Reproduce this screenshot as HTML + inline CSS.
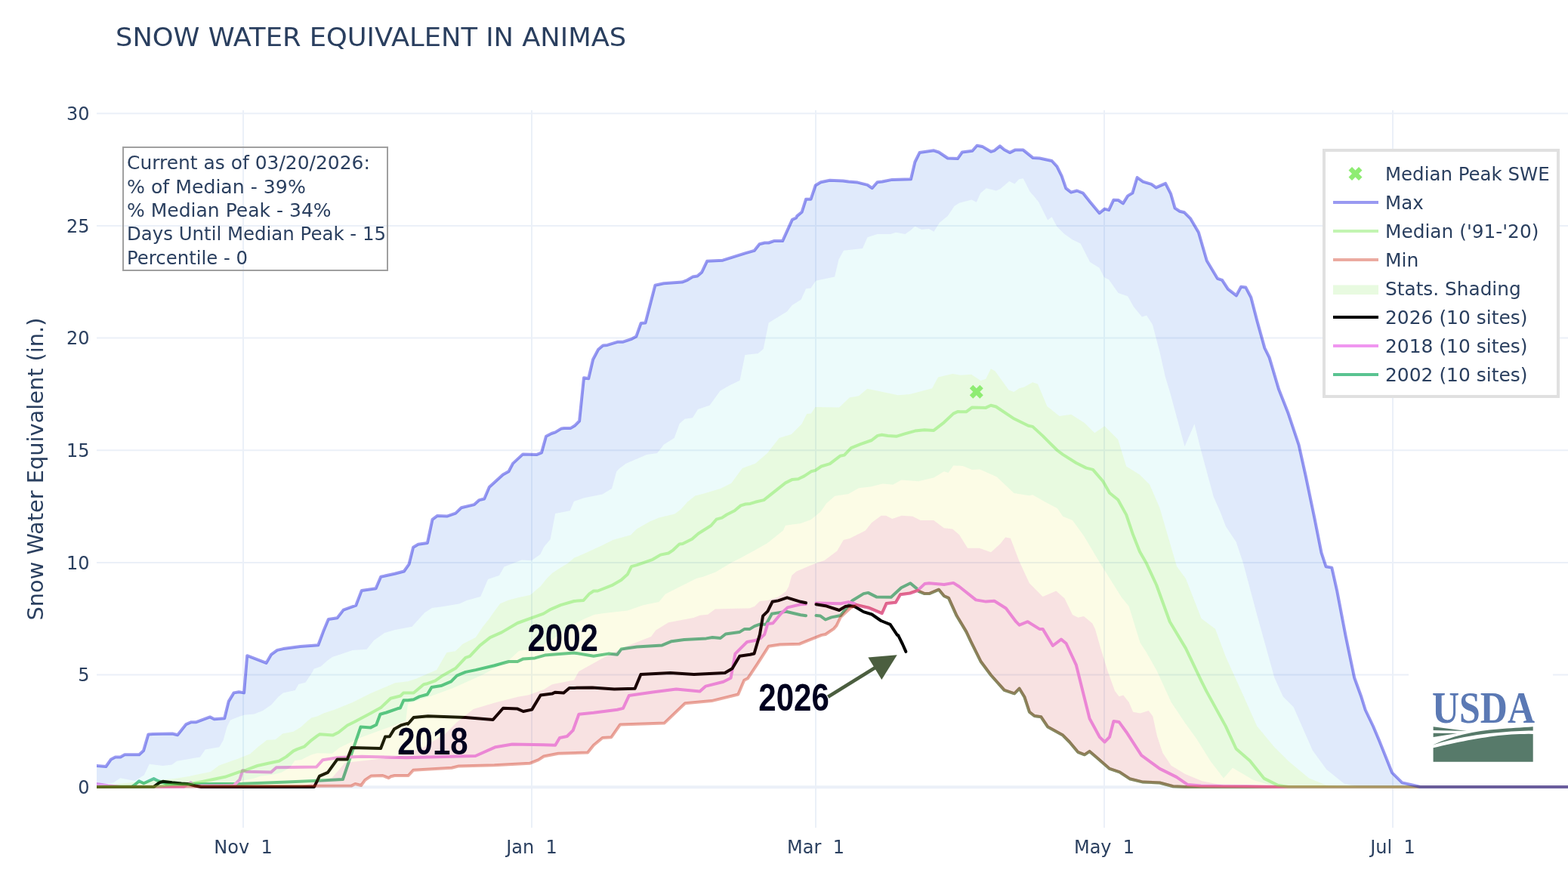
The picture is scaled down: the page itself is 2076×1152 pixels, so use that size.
<!DOCTYPE html>
<html><head><meta charset="utf-8"><title>Snow Water Equivalent in Animas</title>
<style>
html,body{margin:0;padding:0;background:#fff;overflow:hidden;}
svg{display:block;}
.t{font-family:"DejaVu Sans","Liberation Sans",sans-serif;fill:#2a3f5f;}
.lbl{font-family:"Liberation Sans",Arial,sans-serif;font-weight:bold;fill:#00001e;}
</style></head><body>
<svg width="2076" height="1152" viewBox="0 0 2076 1152">
<rect x="0" y="0" width="2076" height="1152" fill="#fff"/>
<defs><clipPath id="pc"><rect x="128" y="146" width="1948" height="950"/></clipPath></defs>
<g stroke="#ebf0f8" stroke-width="2" fill="none">
<path d="M322,146 V1096"/>
<path d="M704,146 V1096"/>
<path d="M1080,146 V1096"/>
<path d="M1462,146 V1096"/>
<path d="M1844,146 V1096"/>
<path d="M128,893.6 H2076"/>
<path d="M128,744.9 H2076"/>
<path d="M128,596.2 H2076"/>
<path d="M128,447.6 H2076"/>
<path d="M128,298.9 H2076"/>
<path d="M128,150.2 H2076"/>
</g>
<path d="M128,1042.3 H2076" stroke="#ebf0f8" stroke-width="4"/>
<g clip-path="url(#pc)" fill="none" stroke-linejoin="round" stroke-linecap="round">
<path d="M128.0,1042.0 L175.0,1041.5 L177.8,1039.7 L184.1,1034.2 L190.3,1037.3 L203.6,1031.1 L209.8,1034.2 L220.0,1037.5 L258.7,1038.3 L320.4,1037.8 L380.0,1035.5 L420.0,1033.8 L453.9,1032.0 L477.5,962.6 L490.8,963.4 L498.2,959.7 L503.4,945.7 L511.5,943.5 L526.2,938.3 L529.9,937.5 L534.4,927.2 L540.0,927.2 L547.6,926.2 L555.3,922.4 L565.8,919.5 L571.5,910.0 L583.9,908.1 L597.3,902.3 L604.9,894.7 L616.4,889.9 L629.8,887.1 L654.6,881.3 L673.7,876.0 L685.2,876.0 L692.8,872.4 L708.1,871.4 L721.4,867.6 L740.5,866.0 L760.0,864.5 L785.9,868.8 L805.5,865.6 L817.2,866.8 L822.5,859.6 L843.3,856.5 L876.7,854.4 L889.2,849.2 L905.8,847.1 L935.0,845.4 L943.3,844.0 L953.8,845.0 L960.8,839.5 L978.9,837.1 L985.8,832.9 L992.8,832.9 L999.0,829.1 L1006.0,826.7 L1014.3,826.7 L1021.9,812.8 L1030.3,811.4 L1040.7,809.7 L1060.0,814.2 L1067.0,815.3" stroke="#5ac391" stroke-width="4"/>
<path d="M1080.5,815.1 L1086.2,815.6 L1092.9,820.5 L1100.8,817.4 L1113.0,815.0 L1128.1,795.5 L1143.3,786.1 L1149.4,784.9 L1160.4,790.4 L1179.8,790.7 L1193.2,778.2 L1205.3,772.2 L1213.8,779.4 L1216.3,783.1 L1224.2,786.1 L1230.2,786.1 L1243.0,780.7 L1250.0,789.2 L1256.0,791.9 L1266.6,815.3 L1279.4,836.6 L1285.5,849.7 L1298.8,876.3 L1312.0,894.0 L1329.7,913.9 L1343.0,918.3 L1349.6,911.7 L1356.3,922.7 L1362.9,942.7 L1369.6,948.0 L1378.4,949.3 L1387.3,962.6 L1407.2,973.6 L1416.0,982.5 L1427.1,995.8 L1435.9,999.3 L1442.6,994.9 L1451.4,1002.4 L1469.1,1017.9 L1482.4,1022.3 L1495.7,1031.2 L1513.4,1035.6 L1535.5,1036.5 L1553.2,1041.3 L1570.0,1042.0 L2090.0,1042.0" stroke="#5ac391" stroke-width="4"/>
<path d="M128.0,1037.9 L143.1,1040.2 L160.0,1042.0 L243.3,1041.7 L252.6,1036.3 L258.0,1040.5 L309.6,1040.2 L317.3,1032.5 L321.2,1020.2 L326.6,1021.7 L358.9,1022.5 L365.9,1016.3 L419.0,1015.5 L427.4,1006.2 L446.6,1003.2 L479.0,1001.7 L538.0,1003.2 L567.6,1002.5 L629.5,1001.0 L656.1,989.2 L678.2,985.5 L720.0,986.2 L735.2,986.7 L741.0,977.0 L750.8,975.0 L758.6,967.2 L766.4,945.7 L785.9,943.8 L817.2,939.8 L825.0,937.9 L832.8,921.1 L864.1,916.4 L895.3,912.5 L926.6,915.6 L934.4,908.6 L957.8,902.7 L967.6,897.7 L973.4,865.6 L989.1,850.0 L1000.0,848.0 L1007.0,845.1 L1012.2,840.0 L1016.4,826.0 L1023.3,825.3 L1033.8,812.8 L1042.8,804.4 L1060.0,800.3 L1067.0,799.9" stroke="#f096f0" stroke-width="4"/>
<path d="M1080.5,798.6 L1113.0,799.2 L1123.3,797.1 L1131.2,799.2 L1134.0,801.0 L1150.0,804.7 L1167.7,812.2 L1173.7,798.9 L1185.9,797.7 L1192.0,787.3 L1204.7,785.5 L1215.0,781.9 L1224.2,773.1 L1230.2,772.2 L1250.0,774.0 L1262.3,771.9 L1270.0,776.7 L1292.1,794.4 L1305.4,796.6 L1316.5,795.8 L1331.9,805.5 L1345.2,823.2 L1349.6,827.6 L1360.7,823.2 L1376.2,832.9 L1380.6,832.9 L1393.9,855.0 L1405.0,846.6 L1411.6,852.0 L1424.9,880.7 L1442.6,951.5 L1455.8,975.8 L1462.5,982.5 L1469.1,975.8 L1474.4,955.0 L1481.5,955.9 L1491.2,969.2 L1511.2,1000.2 L1535.5,1017.9 L1557.6,1028.9 L1572.2,1038.9 L1590.0,1040.5 L1650.0,1041.0 L1700.0,1042.0 L2090.0,1042.0" stroke="#f096f0" stroke-width="4"/>
<path d="M128.0,1042.0 L204.0,1041.7 L210.9,1036.3 L215.6,1034.8 L227.9,1036.3 L240.2,1037.4 L247.9,1037.9 L258.7,1040.5 L266.4,1042.0 L416.0,1042.0 L423.0,1027.6 L434.0,1022.8 L446.6,1005.4 L459.8,1005.4 L465.7,989.9 L504.1,991.0 L510.0,975.6 L515.9,975.2 L521.8,965.6 L530.7,960.4 L539.5,957.9 L540.0,958.7 L547.6,950.1 L566.7,948.2 L616.4,950.1 L652.7,953.0 L666.1,937.7 L685.2,938.6 L692.8,942.0 L704.2,939.6 L715.7,920.5 L731.0,918.6 L734.8,916.7 L746.3,917.6 L753.9,910.9 L760.0,910.9 L784.0,910.5 L813.3,912.5 L840.6,911.7 L848.4,893.0 L887.5,891.0 L918.8,893.0 L959.8,891.0 L969.5,885.2 L979.3,868.8 L993.0,866.8 L998.5,865.5 L1006.0,840.0 L1010.1,815.6 L1016.4,809.3 L1022.6,796.8 L1030.3,795.4 L1042.1,791.3 L1060.0,796.8 L1067.0,798.3" stroke="#000000" stroke-width="4"/>
<path d="M1080.5,800.3 L1092.9,802.2 L1111.1,808.0 L1119.0,803.1 L1125.1,802.2 L1131.2,803.1 L1137.3,806.5 L1143.3,810.1 L1154.3,813.5 L1166.5,822.0 L1178.6,826.8 L1187.9,840.9 L1189.0,840.9 L1195.0,853.0 L1199.4,862.9" stroke="#000000" stroke-width="4"/>
<path d="M128.0,1014.0 L140.3,1015.0 L147.0,1005.4 L152.7,1002.4 L159.5,1002.4 L165.1,999.3 L184.3,999.3 L190.0,994.1 L196.3,972.6 L202.4,972.0 L228.3,971.5 L235.1,973.3 L246.4,959.1 L253.2,956.2 L259.9,956.2 L278.0,949.4 L283.6,952.3 L297.2,951.2 L302.8,928.6 L309.6,917.4 L316.3,916.2 L323.1,917.4 L327.2,868.2 L352.5,877.9 L359.2,866.6 L367.1,860.9 L375.0,859.1 L397.6,856.0 L421.3,854.2 L428.1,836.1 L434.8,819.9 L446.5,818.2 L454.7,807.6 L471.2,801.7 L478.8,781.9 L497.6,779.2 L504.2,763.7 L522.4,759.8 L534.9,756.5 L541.5,747.2 L547.1,724.8 L553.7,720.8 L565.9,718.9 L572.5,687.9 L579.1,682.9 L591.7,683.6 L603.2,679.6 L610.8,672.3 L628.0,668.1 L634.6,662.1 L641.2,660.5 L647.8,645.0 L665.9,628.5 L673.5,624.2 L679.1,613.6 L692.3,601.4 L710.4,602.1 L717.0,599.4 L723.0,577.7 L730.2,574.0 L735.2,572.4 L743.4,567.4 L746.9,566.9 L755.6,566.9 L760.8,563.8 L767.1,557.5 L773.0,500.2 L779.2,501.3 L785.1,476.0 L792.1,462.8 L798.3,457.5 L804.2,456.9 L818.1,452.7 L825.0,452.7 L835.5,449.2 L842.4,445.4 L848.6,428.0 L854.5,427.4 L867.4,377.7 L878.8,375.3 L903.1,373.6 L910.1,370.8 L917.0,366.6 L923.3,365.6 L929.2,360.4 L936.1,345.8 L956.9,344.7 L986.4,335.4 L998.6,331.9 L1005.5,323.2 L1012.5,321.5 L1017.7,321.5 L1024.6,319.1 L1036.1,319.1 L1048.9,290.9 L1054.1,288.5 L1055.2,286.1 L1061.7,280.7 L1067.1,263.7 L1073.6,263.7 L1079.7,245.5 L1086.7,241.2 L1098.6,238.8 L1116.0,239.4 L1123.5,240.5 L1135.5,241.6 L1148.5,244.9 L1154.6,249.2 L1161.5,241.2 L1168.0,240.5 L1181.1,237.9 L1206.0,237.3 L1211.4,214.5 L1217.5,202.1 L1236.4,199.3 L1242.9,201.5 L1254.8,209.5 L1267.9,210.1 L1273.9,201.5 L1287.4,199.7 L1293.5,192.8 L1300.4,193.9 L1311.9,200.8 L1316.7,199.3 L1323.9,193.4 L1329.7,198.2 L1336.9,202.1 L1343.8,198.6 L1354.7,198.6 L1367.7,209.1 L1376.4,209.5 L1392.6,213.0 L1399.4,220.3 L1405.6,232.8 L1411.3,249.4 L1418.1,254.7 L1425.9,252.5 L1433.8,255.6 L1443.1,267.2 L1455.6,282.2 L1462.5,276.6 L1468.1,278.1 L1474.4,264.7 L1480.6,265.0 L1486.9,269.4 L1493.1,259.4 L1499.4,255.6 L1505.6,235.0 L1513.4,240.6 L1524.4,243.8 L1530.6,248.4 L1543.1,242.8 L1550.0,256.3 L1555.6,275.6 L1561.9,279.7 L1568.1,281.3 L1575.9,289.1 L1586.9,307.8 L1597.8,345.3 L1611.9,368.8 L1618.1,370.9 L1625.9,382.8 L1636.9,391.3 L1643.1,379.7 L1649.4,380.6 L1656.3,393.8 L1664.4,425.0 L1674.4,460.9 L1680.6,473.4 L1693.1,515.6 L1705.7,547.6 L1719.6,589.1 L1728.8,630.5 L1740.3,685.7 L1749.5,731.8 L1755.5,750.2 L1763.3,751.6 L1770.2,782.4 L1781.7,842.3 L1793.2,897.5 L1802.4,922.8 L1807.7,940.0 L1818.2,962.0 L1825.8,980.1 L1833.5,999.2 L1837.3,1008.7 L1843.0,1023.1 L1846.8,1026.9 L1856.4,1036.4 L1861.1,1037.4 L1875.5,1040.7 L1880.2,1042.0 L2090.0,1042.0 L2090.0,1042.0 L1797.8,1042.0 L1779.4,1037.5 L1756.4,1019.1 L1737.9,993.8 L1712.6,936.3 L1698.8,922.5 L1687.3,897.2 L1664.3,814.4 L1645.9,745.4 L1636.7,717.8 L1622.9,697.1 L1616.0,678.7 L1606.8,658.0 L1590.6,598.2 L1581.4,561.4 L1568.5,591.3 L1549.2,520.0 L1543.1,500.0 L1535.3,465.6 L1525.9,429.7 L1518.1,417.8 L1511.9,419.4 L1500.9,406.3 L1493.1,392.2 L1480.6,388.1 L1468.1,370.3 L1461.9,367.2 L1455.6,354.7 L1443.1,346.9 L1430.6,322.5 L1419.7,317.2 L1408.8,309.4 L1399.4,300.0 L1392.6,287.2 L1387.2,291.5 L1381.8,280.7 L1375.3,267.7 L1369.9,261.1 L1363.4,253.5 L1354.7,236.2 L1349.2,237.3 L1343.4,243.4 L1336.2,240.1 L1324.3,250.3 L1318.9,252.5 L1305.8,249.2 L1298.2,255.7 L1292.8,267.7 L1286.3,264.4 L1270.0,268.7 L1263.5,273.1 L1254.8,286.1 L1244.0,294.8 L1236.4,306.7 L1229.9,303.0 L1220.1,304.1 L1211.4,299.8 L1204.9,305.6 L1198.4,310.0 L1186.5,307.8 L1178.9,310.0 L1161.5,310.0 L1148.5,314.3 L1142.0,328.9 L1117.0,331.7 L1110.5,343.6 L1105.1,366.4 L1080.1,371.8 L1073.6,381.6 L1067.1,382.2 L1060.6,396.8 L1048.9,404.1 L1042.0,412.4 L1017.7,427.4 L1010.7,462.1 L1003.8,468.0 L986.4,470.0 L979.5,503.7 L965.6,510.6 L953.5,517.6 L939.6,536.7 L924.0,541.9 L917.0,553.3 L906.6,554.7 L899.7,561.0 L892.7,580.1 L878.8,588.8 L870.2,599.9 L856.3,602.0 L828.9,613.7 L820.4,620.0 L816.3,624.2 L810.0,647.1 L797.5,654.4 L772.5,659.6 L760.0,663.8 L754.7,676.2 L735.2,680.1 L728.6,714.2 L720.3,724.1 L715.4,734.0 L703.8,742.3 L690.6,741.6 L667.5,750.5 L661.0,762.1 L646.1,767.0 L636.2,790.1 L618.0,795.0 L608.2,799.4 L584.0,803.4 L571.9,805.0 L562.0,811.6 L545.5,829.7 L523.1,833.9 L509.2,838.0 L495.0,848.0 L485.6,859.7 L466.9,860.9 L440.0,870.0 L433.7,874.5 L424.7,882.4 L415.6,885.8 L413.4,890.3 L404.4,903.8 L395.3,906.1 L390.8,914.0 L375.0,917.4 L368.2,923.0 L359.2,933.2 L348.0,941.0 L336.7,945.6 L323.1,946.7 L316.3,949.0 L305.0,953.5 L300.5,962.5 L295.7,980.1 L290.3,989.3 L271.8,992.4 L264.9,1002.4 L234.1,1007.8 L227.9,1012.4 L215.6,1014.0 L197.8,1011.7 L190.9,1026.3 L178.6,1034.0 L159.3,1030.2 L150.0,1036.5 L128.0,1038.7 Z" fill="rgba(17,93,224,0.13)" stroke="none"/>
<path d="M128.0,1038.7 L150.0,1036.5 L159.3,1030.2 L178.6,1034.0 L190.9,1026.3 L197.8,1011.7 L215.6,1014.0 L227.9,1012.4 L234.1,1007.8 L264.9,1002.4 L271.8,992.4 L290.3,989.3 L295.7,980.1 L300.5,962.5 L305.0,953.5 L316.3,949.0 L323.1,946.7 L336.7,945.6 L348.0,941.0 L359.2,933.2 L368.2,923.0 L375.0,917.4 L390.8,914.0 L395.3,906.1 L404.4,903.8 L413.4,890.3 L415.6,885.8 L424.7,882.4 L433.7,874.5 L440.0,870.0 L466.9,860.9 L485.6,859.7 L495.0,848.0 L509.2,838.0 L523.1,833.9 L545.5,829.7 L562.0,811.6 L571.9,805.0 L584.0,803.4 L608.2,799.4 L618.0,795.0 L636.2,790.1 L646.1,767.0 L661.0,762.1 L667.5,750.5 L690.6,741.6 L703.8,742.3 L715.4,734.0 L720.3,724.1 L728.6,714.2 L735.2,680.1 L754.7,676.2 L760.0,663.8 L772.5,659.6 L797.5,654.4 L810.0,647.1 L816.3,624.2 L820.4,620.0 L828.9,613.7 L856.3,602.0 L870.2,599.9 L878.8,588.8 L892.7,580.1 L899.7,561.0 L906.6,554.7 L917.0,553.3 L924.0,541.9 L939.6,536.7 L953.5,517.6 L965.6,510.6 L979.5,503.7 L986.4,470.0 L1003.8,468.0 L1010.7,462.1 L1017.7,427.4 L1042.0,412.4 L1048.9,404.1 L1060.6,396.8 L1067.1,382.2 L1073.6,381.6 L1080.1,371.8 L1105.1,366.4 L1110.5,343.6 L1117.0,331.7 L1142.0,328.9 L1148.5,314.3 L1161.5,310.0 L1178.9,310.0 L1186.5,307.8 L1198.4,310.0 L1204.9,305.6 L1211.4,299.8 L1220.1,304.1 L1229.9,303.0 L1236.4,306.7 L1244.0,294.8 L1254.8,286.1 L1263.5,273.1 L1270.0,268.7 L1286.3,264.4 L1292.8,267.7 L1298.2,255.7 L1305.8,249.2 L1318.9,252.5 L1324.3,250.3 L1336.2,240.1 L1343.4,243.4 L1349.2,237.3 L1354.7,236.2 L1363.4,253.5 L1369.9,261.1 L1375.3,267.7 L1381.8,280.7 L1387.2,291.5 L1392.6,287.2 L1399.4,300.0 L1408.8,309.4 L1419.7,317.2 L1430.6,322.5 L1443.1,346.9 L1455.6,354.7 L1461.9,367.2 L1468.1,370.3 L1480.6,388.1 L1493.1,392.2 L1500.9,406.3 L1511.9,419.4 L1518.1,417.8 L1525.9,429.7 L1535.3,465.6 L1543.1,500.0 L1549.2,520.0 L1568.5,591.3 L1581.4,561.4 L1590.6,598.2 L1606.8,658.0 L1616.0,678.7 L1622.9,697.1 L1636.7,717.8 L1645.9,745.4 L1664.3,814.4 L1687.3,897.2 L1698.8,922.5 L1712.6,936.3 L1737.9,993.8 L1756.4,1019.1 L1779.4,1037.5 L1797.8,1042.0 L2090.0,1042.0 L2090.0,1042.0 L1780.0,1042.0 L1756.2,1039.8 L1733.2,1030.6 L1705.6,1007.6 L1687.2,989.2 L1664.2,961.6 L1645.8,920.2 L1622.8,869.6 L1609.0,832.8 L1590.6,819.0 L1569.9,766.1 L1558.0,750.0 L1535.5,672.7 L1522.2,641.8 L1508.9,628.5 L1491.2,617.4 L1480.2,582.0 L1462.5,564.3 L1449.2,573.2 L1435.9,559.9 L1418.2,548.8 L1402.7,551.1 L1386.4,537.9 L1374.0,508.5 L1367.2,506.3 L1356.0,512.4 L1349.2,514.2 L1342.4,519.1 L1335.6,516.4 L1317.6,491.6 L1311.9,488.2 L1305.2,501.8 L1298.4,504.0 L1286.0,495.7 L1272.5,496.8 L1261.2,495.0 L1242.0,499.5 L1234.1,514.2 L1204.7,522.1 L1189.0,523.2 L1148.3,514.8 L1137.0,524.3 L1124.6,526.6 L1111.1,539.4 L1079.5,539.0 L1073.9,547.6 L1068.2,548.0 L1061.4,561.6 L1047.9,575.1 L1031.6,580.1 L1016.0,599.9 L1000.0,613.7 L982.9,620.0 L976.7,628.3 L968.3,639.8 L953.8,647.1 L932.9,653.3 L920.4,656.5 L910.0,664.8 L901.7,674.2 L893.3,680.4 L872.5,685.6 L860.0,690.8 L843.3,700.2 L835.0,708.5 L812.1,714.8 L797.5,722.1 L772.5,733.5 L760.0,738.8 L752.0,745.7 L742.4,751.5 L731.0,759.1 L723.3,766.7 L715.7,776.3 L710.0,781.1 L702.3,787.7 L685.2,791.6 L673.7,794.4 L662.2,799.2 L656.5,806.8 L647.0,820.2 L639.3,829.8 L629.8,844.1 L612.6,852.7 L603.0,862.2 L591.6,864.1 L585.8,873.7 L578.2,887.1 L564.8,892.8 L551.5,898.5 L540.0,902.3 L523.1,904.2 L490.3,918.3 L466.9,930.0 L443.4,939.4 L428.3,944.6 L420.0,948.6 L412.4,950.5 L407.6,954.3 L398.0,962.9 L388.5,968.7 L374.2,971.5 L364.6,979.2 L353.2,980.1 L340.7,989.7 L331.2,998.3 L316.9,1004.0 L303.5,1008.8 L290.1,1013.5 L278.7,1022.1 L250.0,1027.9 L231.0,1031.0 L128.0,1040.5 Z" fill="rgba(109,224,224,0.13)" stroke="none"/>
<path d="M128.0,1040.5 L231.0,1031.0 L250.0,1027.9 L278.7,1022.1 L290.1,1013.5 L303.5,1008.8 L316.9,1004.0 L331.2,998.3 L340.7,989.7 L353.2,980.1 L364.6,979.2 L374.2,971.5 L388.5,968.7 L398.0,962.9 L407.6,954.3 L412.4,950.5 L420.0,948.6 L428.3,944.6 L443.4,939.4 L466.9,930.0 L490.3,918.3 L523.1,904.2 L540.0,902.3 L551.5,898.5 L564.8,892.8 L578.2,887.1 L585.8,873.7 L591.6,864.1 L603.0,862.2 L612.6,852.7 L629.8,844.1 L639.3,829.8 L647.0,820.2 L656.5,806.8 L662.2,799.2 L673.7,794.4 L685.2,791.6 L702.3,787.7 L710.0,781.1 L715.7,776.3 L723.3,766.7 L731.0,759.1 L742.4,751.5 L752.0,745.7 L760.0,738.8 L772.5,733.5 L797.5,722.1 L812.1,714.8 L835.0,708.5 L843.3,700.2 L860.0,690.8 L872.5,685.6 L893.3,680.4 L901.7,674.2 L910.0,664.8 L920.4,656.5 L932.9,653.3 L953.8,647.1 L968.3,639.8 L976.7,628.3 L982.9,620.0 L1000.0,613.7 L1016.0,599.9 L1031.6,580.1 L1047.9,575.1 L1061.4,561.6 L1068.2,548.0 L1073.9,547.6 L1079.5,539.0 L1111.1,539.4 L1124.6,526.6 L1137.0,524.3 L1148.3,514.8 L1189.0,523.2 L1204.7,522.1 L1234.1,514.2 L1242.0,499.5 L1261.2,495.0 L1272.5,496.8 L1286.0,495.7 L1298.4,504.0 L1305.2,501.8 L1311.9,488.2 L1317.6,491.6 L1335.6,516.4 L1342.4,519.1 L1349.2,514.2 L1356.0,512.4 L1367.2,506.3 L1374.0,508.5 L1386.4,537.9 L1402.7,551.1 L1418.2,548.8 L1435.9,559.9 L1449.2,573.2 L1462.5,564.3 L1480.2,582.0 L1491.2,617.4 L1508.9,628.5 L1522.2,641.8 L1535.5,672.7 L1558.0,750.0 L1569.9,766.1 L1590.6,819.0 L1609.0,832.8 L1622.8,869.6 L1645.8,920.2 L1664.2,961.6 L1687.2,989.2 L1705.6,1007.6 L1733.2,1030.6 L1756.2,1039.8 L1780.0,1042.0 L2090.0,1042.0 L2090.0,1042.0 L1700.0,1042.0 L1682.6,1039.8 L1659.6,1032.9 L1632.0,1016.8 L1620.0,1030.4 L1602.8,1008.1 L1584.2,978.2 L1569.3,957.7 L1550.6,929.7 L1531.9,888.7 L1517.0,862.5 L1509.6,851.3 L1494.6,802.8 L1485.3,791.6 L1476.0,776.7 L1457.3,746.9 L1434.9,709.6 L1420.0,689.0 L1407.2,683.8 L1400.0,673.3 L1385.3,665.4 L1367.2,655.2 L1362.7,656.3 L1342.4,653.0 L1319.8,631.5 L1297.3,621.4 L1287.1,622.0 L1274.7,616.9 L1262.3,616.4 L1255.5,625.9 L1249.9,624.3 L1236.3,632.6 L1216.0,637.2 L1193.5,635.6 L1182.2,641.7 L1168.6,640.5 L1152.8,644.6 L1137.0,646.2 L1123.5,654.1 L1105.4,656.8 L1094.2,666.5 L1086.3,677.8 L1073.9,687.9 L1060.3,692.9 L1040.0,695.8 L1036.8,702.6 L1015.5,719.6 L1000.0,728.3 L980.8,738.8 L968.3,745.0 L947.5,757.5 L930.8,763.8 L922.5,765.8 L910.0,772.1 L897.5,778.3 L880.8,786.7 L872.5,797.1 L851.7,801.3 L830.8,808.5 L801.7,811.7 L787.1,813.8 L772.5,820.0 L760.0,826.3 L731.0,847.0 L712.0,858.0 L687.0,862.0 L674.0,874.0 L640.0,893.0 L600.0,911.0 L570.0,922.0 L540.0,932.0 L537.2,955.0 L479.0,976.0 L449.5,990.0 L440.0,997.8 L420.0,997.3 L412.4,999.2 L399.0,1005.9 L390.4,1006.9 L383.7,1016.4 L372.3,1023.1 L359.8,1026.0 L345.5,1027.4 L336.0,1030.7 L316.9,1034.6 L300.0,1038.0 L289.6,1038.7 L250.0,1041.0 L128.0,1042.0 Z" fill="rgba(78,217,17,0.13)" stroke="none"/>
<path d="M128.0,1042.0 L250.0,1041.0 L289.6,1038.7 L300.0,1038.0 L316.9,1034.6 L336.0,1030.7 L345.5,1027.4 L359.8,1026.0 L372.3,1023.1 L383.7,1016.4 L390.4,1006.9 L399.0,1005.9 L412.4,999.2 L420.0,997.3 L440.0,997.8 L449.5,990.0 L479.0,976.0 L537.2,955.0 L540.0,932.0 L570.0,922.0 L600.0,911.0 L640.0,893.0 L674.0,874.0 L687.0,862.0 L712.0,858.0 L731.0,847.0 L760.0,826.3 L772.5,820.0 L787.1,813.8 L801.7,811.7 L830.8,808.5 L851.7,801.3 L872.5,797.1 L880.8,786.7 L897.5,778.3 L910.0,772.1 L922.5,765.8 L930.8,763.8 L947.5,757.5 L968.3,745.0 L980.8,738.8 L1000.0,728.3 L1015.5,719.6 L1036.8,702.6 L1040.0,695.8 L1060.3,692.9 L1073.9,687.9 L1086.3,677.8 L1094.2,666.5 L1105.4,656.8 L1123.5,654.1 L1137.0,646.2 L1152.8,644.6 L1168.6,640.5 L1182.2,641.7 L1193.5,635.6 L1216.0,637.2 L1236.3,632.6 L1249.9,624.3 L1255.5,625.9 L1262.3,616.4 L1274.7,616.9 L1287.1,622.0 L1297.3,621.4 L1319.8,631.5 L1342.4,653.0 L1362.7,656.3 L1367.2,655.2 L1385.3,665.4 L1400.0,673.3 L1407.2,683.8 L1420.0,689.0 L1434.9,709.6 L1457.3,746.9 L1476.0,776.7 L1485.3,791.6 L1494.6,802.8 L1509.6,851.3 L1517.0,862.5 L1531.9,888.7 L1550.6,929.7 L1569.3,957.7 L1584.2,978.2 L1602.8,1008.1 L1620.0,1030.4 L1632.0,1016.8 L1659.6,1032.9 L1682.6,1039.8 L1700.0,1042.0 L2090.0,1042.0 L2090.0,1042.0 L1620.0,1039.9 L1591.6,1034.3 L1569.3,1024.9 L1550.6,1013.7 L1539.4,996.9 L1531.9,974.5 L1526.3,948.4 L1520.7,940.9 L1509.6,944.6 L1500.2,942.8 L1494.6,929.7 L1487.2,920.4 L1481.6,922.2 L1476.0,914.8 L1466.6,888.7 L1457.3,858.8 L1449.9,832.7 L1446.1,825.2 L1434.9,815.9 L1427.5,817.8 L1420.0,814.0 L1409.4,792.2 L1398.3,782.5 L1380.6,790.0 L1362.9,772.3 L1349.6,743.5 L1337.9,712.8 L1331.1,711.6 L1324.4,720.0 L1312.0,731.2 L1296.5,725.8 L1281.1,725.8 L1270.0,708.1 L1261.2,700.4 L1249.9,699.2 L1236.3,689.1 L1218.8,689.0 L1208.3,683.8 L1193.8,682.7 L1181.3,686.9 L1172.9,682.7 L1166.7,682.7 L1154.2,692.1 L1145.8,702.5 L1125.0,712.9 L1116.7,715.0 L1108.3,729.6 L1091.7,742.1 L1079.2,746.3 L1068.8,750.4 L1054.2,756.7 L1048.3,762.1 L1044.2,776.7 L1040.7,782.9 L1030.3,790.6 L1016.4,795.1 L1006.0,796.1 L999.0,803.1 L992.1,805.5 L974.7,805.8 L946.9,806.5 L937.1,813.8 L926.7,814.8 L918.3,817.9 L885.0,824.2 L868.3,834.6 L862.0,843.0 L828.9,855.9 L801.6,869.5 L766.4,889.1 L760.0,900.4 L731.0,906.2 L720.0,913.0 L700.0,920.3 L685.6,922.8 L656.1,930.2 L626.6,939.0 L604.4,956.7 L589.7,971.5 L560.0,990.0 L523.3,1002.5 L456.9,1010.0 L440.0,1029.4 L400.0,1041.0 L128.0,1042.0 Z" fill="rgba(232,232,63,0.13)" stroke="none"/>
<path d="M128.0,1042.0 L400.0,1041.0 L440.0,1029.4 L456.9,1010.0 L523.3,1002.5 L560.0,990.0 L589.7,971.5 L604.4,956.7 L626.6,939.0 L656.1,930.2 L685.6,922.8 L700.0,920.3 L720.0,913.0 L731.0,906.2 L760.0,900.4 L766.4,889.1 L801.6,869.5 L828.9,855.9 L862.0,843.0 L868.3,834.6 L885.0,824.2 L918.3,817.9 L926.7,814.8 L937.1,813.8 L946.9,806.5 L974.7,805.8 L992.1,805.5 L999.0,803.1 L1006.0,796.1 L1016.4,795.1 L1030.3,790.6 L1040.7,782.9 L1044.2,776.7 L1048.3,762.1 L1054.2,756.7 L1068.8,750.4 L1079.2,746.3 L1091.7,742.1 L1108.3,729.6 L1116.7,715.0 L1125.0,712.9 L1145.8,702.5 L1154.2,692.1 L1166.7,682.7 L1172.9,682.7 L1181.3,686.9 L1193.8,682.7 L1208.3,683.8 L1218.8,689.0 L1236.3,689.1 L1249.9,699.2 L1261.2,700.4 L1270.0,708.1 L1281.1,725.8 L1296.5,725.8 L1312.0,731.2 L1324.4,720.0 L1331.1,711.6 L1337.9,712.8 L1349.6,743.5 L1362.9,772.3 L1380.6,790.0 L1398.3,782.5 L1409.4,792.2 L1420.0,814.0 L1427.5,817.8 L1434.9,815.9 L1446.1,825.2 L1449.9,832.7 L1457.3,858.8 L1466.6,888.7 L1476.0,914.8 L1481.6,922.2 L1487.2,920.4 L1494.6,929.7 L1500.2,942.8 L1509.6,944.6 L1520.7,940.9 L1526.3,948.4 L1531.9,974.5 L1539.4,996.9 L1550.6,1013.7 L1569.3,1024.9 L1591.6,1034.3 L1620.0,1039.9 L2090.0,1042.0 L2090.0,1042.0 L1570.0,1042.0 L1553.2,1041.3 L1535.5,1036.5 L1513.4,1035.6 L1495.7,1031.2 L1482.4,1022.3 L1469.1,1017.9 L1451.4,1002.4 L1442.6,994.9 L1435.9,999.3 L1427.1,995.8 L1416.0,982.5 L1407.2,973.6 L1387.3,962.6 L1378.4,949.3 L1369.6,948.0 L1362.9,942.7 L1356.3,922.7 L1349.6,911.7 L1343.0,918.3 L1329.7,913.9 L1312.0,894.0 L1298.8,876.3 L1285.5,849.7 L1279.4,836.6 L1266.6,815.3 L1256.0,791.9 L1250.0,789.2 L1243.0,780.7 L1230.2,786.1 L1224.2,786.1 L1215.0,781.9 L1204.7,785.5 L1192.0,787.3 L1185.9,797.7 L1173.7,798.9 L1167.7,812.2 L1150.0,804.7 L1134.0,801.0 L1126.0,805.0 L1113.0,817.0 L1107.5,828.4 L1103.8,832.6 L1092.9,840.0 L1087.9,840.9 L1066.6,849.4 L1058.1,852.8 L1032.6,853.6 L1017.7,855.7 L1002.8,879.1 L990.0,898.3 L985.2,900.8 L977.3,919.5 L942.2,928.1 L907.0,931.3 L879.7,957.4 L821.1,959.4 L809.4,976.2 L797.7,977.0 L785.9,986.7 L778.1,996.5 L739.1,997.7 L720.0,1001.5 L712.9,1006.2 L701.2,1010.8 L654.4,1013.2 L607.5,1014.4 L598.1,1016.7 L560.0,1019.1 L547.1,1019.8 L540.6,1027.0 L522.4,1027.0 L517.2,1028.3 L514.6,1030.2 L506.8,1027.0 L491.1,1027.6 L483.3,1032.8 L478.1,1040.0 L470.3,1038.0 L465.1,1040.6 L128.0,1042.0 Z" fill="rgba(201,32,32,0.13)" stroke="none"/>
<path d="M128.0,1042.0 L465.1,1040.6 L470.3,1038.0 L478.1,1040.0 L483.3,1032.8 L491.1,1027.6 L506.8,1027.0 L514.6,1030.2 L517.2,1028.3 L522.4,1027.0 L540.6,1027.0 L547.1,1019.8 L560.0,1019.1 L598.1,1016.7 L607.5,1014.4 L654.4,1013.2 L701.2,1010.8 L712.9,1006.2 L720.0,1001.5 L739.1,997.7 L778.1,996.5 L785.9,986.7 L797.7,977.0 L809.4,976.2 L821.1,959.4 L879.7,957.4 L907.0,931.3 L942.2,928.1 L977.3,919.5 L985.2,900.8 L990.0,898.3 L1002.8,879.1 L1017.7,855.7 L1032.6,853.6 L1058.1,852.8 L1066.6,849.4 L1087.9,840.9 L1092.9,840.0 L1103.8,832.6 L1107.5,828.4 L1113.0,817.0 L1126.0,805.0 L1134.0,801.0 L1150.0,804.7 L1167.7,812.2 L1173.7,798.9 L1185.9,797.7 L1192.0,787.3 L1204.7,785.5 L1215.0,781.9 L1224.2,786.1 L1230.2,786.1 L1243.0,780.7 L1250.0,789.2 L1256.0,791.9 L1266.6,815.3 L1279.4,836.6 L1285.5,849.7 L1298.8,876.3 L1312.0,894.0 L1329.7,913.9 L1343.0,918.3 L1349.6,911.7 L1356.3,922.7 L1362.9,942.7 L1369.6,948.0 L1378.4,949.3 L1387.3,962.6 L1407.2,973.6 L1416.0,982.5 L1427.1,995.8 L1435.9,999.3 L1442.6,994.9 L1451.4,1002.4 L1469.1,1017.9 L1482.4,1022.3 L1495.7,1031.2 L1513.4,1035.6 L1535.5,1036.5 L1553.2,1041.3 L1570.0,1042.0 L2090.0,1042.0" stroke="rgba(205,42,18,0.4)" stroke-width="4"/>
<path d="M128.0,1042.0 L204.0,1042.0 L227.9,1038.7 L250.0,1038.4 L269.1,1034.6 L283.4,1031.7 L297.8,1028.8 L316.9,1022.1 L326.4,1019.3 L340.7,1014.0 L355.1,1010.7 L369.4,1007.8 L378.9,1002.1 L388.5,994.4 L393.3,992.1 L402.8,988.7 L412.4,980.1 L420.0,974.4 L423.4,972.3 L440.4,973.6 L448.2,969.7 L459.9,960.5 L469.0,956.0 L491.1,944.3 L504.2,937.1 L517.2,924.7 L530.2,921.5 L534.1,917.6 L540.0,917.6 L547.6,917.6 L561.0,906.2 L565.8,905.2 L576.3,901.4 L585.8,894.7 L603.0,885.1 L616.4,870.8 L622.1,868.9 L635.5,854.6 L648.9,844.1 L664.1,837.4 L685.2,825.0 L706.2,817.3 L719.5,812.6 L729.1,806.8 L742.4,801.1 L760.0,796.0 L772.5,795.0 L779.8,786.7 L786.0,782.5 L791.3,782.5 L810.0,775.2 L822.5,767.9 L830.8,760.6 L836.0,750.2 L843.3,748.1 L864.2,740.8 L874.6,734.6 L885.0,732.5 L891.3,728.3 L899.6,720.4 L903.8,720.0 L916.3,713.8 L924.6,706.5 L941.3,696.0 L948.5,687.7 L955.8,685.6 L962.1,681.5 L972.5,676.3 L980.8,669.4 L987.1,667.5 L993.3,666.9 L1000.0,664.8 L1011.3,662.1 L1040.0,639.4 L1049.0,634.9 L1056.9,634.2 L1064.8,630.4 L1073.9,624.3 L1079.5,622.9 L1087.4,617.5 L1098.7,614.1 L1112.2,603.8 L1117.9,602.6 L1126.9,593.2 L1139.3,588.2 L1154.0,583.0 L1161.9,576.9 L1167.5,575.8 L1175.4,576.9 L1186.7,577.8 L1198.0,574.4 L1211.5,570.6 L1223.9,569.2 L1236.3,569.9 L1249.9,559.3 L1262.3,547.6 L1267.9,545.1 L1279.2,545.3 L1287.1,539.4 L1305.2,539.9 L1311.9,536.7 L1318.7,538.5 L1341.3,553.7 L1361.6,563.8 L1367.2,564.9 L1380.8,577.4 L1388.7,585.3 L1400.0,596.5 L1407.2,601.9 L1424.9,613.0 L1438.1,619.6 L1447.0,621.9 L1460.3,637.3 L1469.1,652.8 L1480.2,661.7 L1491.2,681.6 L1500.1,708.1 L1508.9,730.3 L1517.8,745.8 L1531.1,774.5 L1548.8,823.2 L1570.0,858.6 L1590.6,901.8 L1597.5,915.6 L1622.8,961.6 L1636.6,991.5 L1655.0,1007.6 L1673.4,1030.6 L1691.8,1039.8 L1705.6,1042.0 L2090.0,1042.0" stroke="rgba(105,230,62,0.4)" stroke-width="4"/>
<path d="M128.0,1014.0 L140.3,1015.0 L147.0,1005.4 L152.7,1002.4 L159.5,1002.4 L165.1,999.3 L184.3,999.3 L190.0,994.1 L196.3,972.6 L202.4,972.0 L228.3,971.5 L235.1,973.3 L246.4,959.1 L253.2,956.2 L259.9,956.2 L278.0,949.4 L283.6,952.3 L297.2,951.2 L302.8,928.6 L309.6,917.4 L316.3,916.2 L323.1,917.4 L327.2,868.2 L352.5,877.9 L359.2,866.6 L367.1,860.9 L375.0,859.1 L397.6,856.0 L421.3,854.2 L428.1,836.1 L434.8,819.9 L446.5,818.2 L454.7,807.6 L471.2,801.7 L478.8,781.9 L497.6,779.2 L504.2,763.7 L522.4,759.8 L534.9,756.5 L541.5,747.2 L547.1,724.8 L553.7,720.8 L565.9,718.9 L572.5,687.9 L579.1,682.9 L591.7,683.6 L603.2,679.6 L610.8,672.3 L628.0,668.1 L634.6,662.1 L641.2,660.5 L647.8,645.0 L665.9,628.5 L673.5,624.2 L679.1,613.6 L692.3,601.4 L710.4,602.1 L717.0,599.4 L723.0,577.7 L730.2,574.0 L735.2,572.4 L743.4,567.4 L746.9,566.9 L755.6,566.9 L760.8,563.8 L767.1,557.5 L773.0,500.2 L779.2,501.3 L785.1,476.0 L792.1,462.8 L798.3,457.5 L804.2,456.9 L818.1,452.7 L825.0,452.7 L835.5,449.2 L842.4,445.4 L848.6,428.0 L854.5,427.4 L867.4,377.7 L878.8,375.3 L903.1,373.6 L910.1,370.8 L917.0,366.6 L923.3,365.6 L929.2,360.4 L936.1,345.8 L956.9,344.7 L986.4,335.4 L998.6,331.9 L1005.5,323.2 L1012.5,321.5 L1017.7,321.5 L1024.6,319.1 L1036.1,319.1 L1048.9,290.9 L1054.1,288.5 L1055.2,286.1 L1061.7,280.7 L1067.1,263.7 L1073.6,263.7 L1079.7,245.5 L1086.7,241.2 L1098.6,238.8 L1116.0,239.4 L1123.5,240.5 L1135.5,241.6 L1148.5,244.9 L1154.6,249.2 L1161.5,241.2 L1168.0,240.5 L1181.1,237.9 L1206.0,237.3 L1211.4,214.5 L1217.5,202.1 L1236.4,199.3 L1242.9,201.5 L1254.8,209.5 L1267.9,210.1 L1273.9,201.5 L1287.4,199.7 L1293.5,192.8 L1300.4,193.9 L1311.9,200.8 L1316.7,199.3 L1323.9,193.4 L1329.7,198.2 L1336.9,202.1 L1343.8,198.6 L1354.7,198.6 L1367.7,209.1 L1376.4,209.5 L1392.6,213.0 L1399.4,220.3 L1405.6,232.8 L1411.3,249.4 L1418.1,254.7 L1425.9,252.5 L1433.8,255.6 L1443.1,267.2 L1455.6,282.2 L1462.5,276.6 L1468.1,278.1 L1474.4,264.7 L1480.6,265.0 L1486.9,269.4 L1493.1,259.4 L1499.4,255.6 L1505.6,235.0 L1513.4,240.6 L1524.4,243.8 L1530.6,248.4 L1543.1,242.8 L1550.0,256.3 L1555.6,275.6 L1561.9,279.7 L1568.1,281.3 L1575.9,289.1 L1586.9,307.8 L1597.8,345.3 L1611.9,368.8 L1618.1,370.9 L1625.9,382.8 L1636.9,391.3 L1643.1,379.7 L1649.4,380.6 L1656.3,393.8 L1664.4,425.0 L1674.4,460.9 L1680.6,473.4 L1693.1,515.6 L1705.7,547.6 L1719.6,589.1 L1728.8,630.5 L1740.3,685.7 L1749.5,731.8 L1755.5,750.2 L1763.3,751.6 L1770.2,782.4 L1781.7,842.3 L1793.2,897.5 L1802.4,922.8 L1807.7,940.0 L1818.2,962.0 L1825.8,980.1 L1833.5,999.2 L1837.3,1008.7 L1843.0,1023.1 L1846.8,1026.9 L1856.4,1036.4 L1861.1,1037.4 L1875.5,1040.7 L1880.2,1042.0 L2090.0,1042.0" stroke="rgba(0,0,220,0.4)" stroke-width="4"/>
</g>
<path d="M1292.8,523.2 l4.5,4.5 l4.5,-4.5 l-4.5,-4.5 l4.5,-4.5 l-4.5,-4.5 l-4.5,4.5 l-4.5,-4.5 l-4.5,4.5 l4.5,4.5 l-4.5,4.5 l4.5,4.5 Z" fill="#8eec72"/>
<text class="t" x="118.5" y="1051.0" font-size="24" text-anchor="end">0</text>
<text class="t" x="118.5" y="902.3" font-size="24" text-anchor="end">5</text>
<text class="t" x="118.5" y="753.6" font-size="24" text-anchor="end">10</text>
<text class="t" x="118.5" y="604.9" font-size="24" text-anchor="end">15</text>
<text class="t" x="118.5" y="456.3" font-size="24" text-anchor="end">20</text>
<text class="t" x="118.5" y="307.6" font-size="24" text-anchor="end">25</text>
<text class="t" x="118.5" y="158.9" font-size="24" text-anchor="end">30</text>
<text class="t" x="322" y="1130" font-size="24" text-anchor="middle" xml:space="preserve" style="white-space:pre">Nov  1</text>
<text class="t" x="704" y="1130" font-size="24" text-anchor="middle" xml:space="preserve" style="white-space:pre">Jan  1</text>
<text class="t" x="1080" y="1130" font-size="24" text-anchor="middle" xml:space="preserve" style="white-space:pre">Mar  1</text>
<text class="t" x="1462" y="1130" font-size="24" text-anchor="middle" xml:space="preserve" style="white-space:pre">May  1</text>
<text class="t" x="1844" y="1130" font-size="24" text-anchor="middle" xml:space="preserve" style="white-space:pre">Jul  1</text>
<text class="t" transform="translate(57,621) rotate(-90)" font-size="28" text-anchor="middle" textLength="401" lengthAdjust="spacingAndGlyphs">Snow Water Equivalent (in.)</text>
<text class="t" x="153" y="61" font-size="34" textLength="676.2" lengthAdjust="spacingAndGlyphs">SNOW WATER EQUIVALENT IN ANIMAS</text>
<rect x="163" y="195" width="350" height="163" fill="none" stroke="#a0a0a0" stroke-width="2"/>
<text class="t" x="168" y="224.2" font-size="24" textLength="321.8" lengthAdjust="spacingAndGlyphs">Current as of 03/20/2026:</text>
<text class="t" x="168" y="255.6" font-size="24" textLength="236.8" lengthAdjust="spacingAndGlyphs">% of Median - 39%</text>
<text class="t" x="168" y="287.0" font-size="24" textLength="270.6" lengthAdjust="spacingAndGlyphs">% Median Peak - 34%</text>
<text class="t" x="168" y="318.4" font-size="24" textLength="343" lengthAdjust="spacingAndGlyphs">Days Until Median Peak - 15</text>
<text class="t" x="168" y="349.8" font-size="24" textLength="160.1" lengthAdjust="spacingAndGlyphs">Percentile - 0</text>
<rect x="1753" y="199" width="310" height="326" fill="#fff" stroke="#e0e0e0" stroke-width="4"/>
<path d="M1794.5,234.5 l4.5,4.5 l4.5,-4.5 l-4.5,-4.5 l4.5,-4.5 l-4.5,-4.5 l-4.5,4.5 l-4.5,-4.5 l-4.5,4.5 l4.5,4.5 l-4.5,4.5 l4.5,4.5 Z" fill="#8eec72"/>
<text class="t" x="1834" y="239" font-size="24" textLength="217.6" lengthAdjust="spacingAndGlyphs">Median Peak SWE</text>
<path d="M1765,268 H1825" stroke="rgba(0,0,220,0.4)" stroke-width="4"/>
<text class="t" x="1834" y="277" font-size="24" textLength="50.7" lengthAdjust="spacingAndGlyphs">Max</text>
<path d="M1765,306 H1825" stroke="rgba(105,230,62,0.4)" stroke-width="4"/>
<text class="t" x="1834" y="315" font-size="24" textLength="203.4" lengthAdjust="spacingAndGlyphs">Median ('91-'20)</text>
<path d="M1765,344 H1825" stroke="rgba(205,42,18,0.4)" stroke-width="4"/>
<text class="t" x="1834" y="353" font-size="24" textLength="44.4" lengthAdjust="spacingAndGlyphs">Min</text>
<rect x="1765" y="377.5" width="60" height="12.5" fill="#e8fae0"/>
<text class="t" x="1834" y="391" font-size="24" textLength="179.7" lengthAdjust="spacingAndGlyphs">Stats. Shading</text>
<path d="M1765,420 H1825" stroke="#000000" stroke-width="4"/>
<text class="t" x="1834" y="429" font-size="24" textLength="188.5" lengthAdjust="spacingAndGlyphs">2026 (10 sites)</text>
<path d="M1765,458 H1825" stroke="#f096f0" stroke-width="4"/>
<text class="t" x="1834" y="467" font-size="24" textLength="188.5" lengthAdjust="spacingAndGlyphs">2018 (10 sites)</text>
<path d="M1765,496 H1825" stroke="#5ac391" stroke-width="4"/>
<text class="t" x="1834" y="505" font-size="24" textLength="188.5" lengthAdjust="spacingAndGlyphs">2002 (10 sites)</text>
<text class="lbl" x="698.5" y="862.3" font-size="49.5" textLength="93.5" lengthAdjust="spacingAndGlyphs">2002</text>
<text class="lbl" x="526.2" y="999.3" font-size="49.5" textLength="93.5" lengthAdjust="spacingAndGlyphs">2018</text>
<text class="lbl" x="1004.3" y="940.5" font-size="49.5" textLength="93.5" lengthAdjust="spacingAndGlyphs">2026</text>
<path d="M1096.3,922.7 L1162,882" stroke="#4b5e3f" stroke-width="4.6" fill="none"/>
<path d="M1187.7,867.2 L1149.4,870.5 L1167.3,900 Z" fill="#4b5e3f"/>
<g>
<rect x="1865" y="884" width="191" height="140" fill="#fff"/>
<text x="1896" y="957.3" font-family="Liberation Serif,serif" font-weight="bold" font-size="58.5" fill="#5b79b4" textLength="136" lengthAdjust="spacingAndGlyphs">USDA</text>
<path d="M1897.6,962.3 L1941.9,967.9 L1897.6,967 Z" fill="#577a6a"/>
<path d="M1897.6,970.8 L1929.3,971.1 L1897.6,975.9 Z" fill="#577a6a"/>
<path d="M1896.9,986.6 L1902.7,984.0 L1908.4,981.6 L1914.2,979.4 L1920.0,977.4 L1925.8,975.6 L1931.5,974.0 L1937.3,972.5 L1943.1,971.2 L1948.9,970.1 L1954.6,969.1 L1960.4,968.1 L1966.2,967.3 L1972.0,966.6 L1977.7,966.0 L1983.5,965.5 L1989.3,965.0 L1995.1,964.6 L2000.8,964.2 L2006.6,963.8 L2012.4,963.4 L2018.2,963.1 L2023.9,962.7 L2029.7,962.3 L2029.7,967.5 L2023.9,967.6 L2018.2,967.8 L2012.4,968.0 L2006.6,968.3 L2000.8,968.6 L1995.1,969.0 L1989.3,969.4 L1983.5,969.9 L1977.7,970.4 L1972.0,971.0 L1966.2,971.7 L1960.4,972.5 L1954.6,973.3 L1948.9,974.2 L1943.1,975.2 L1937.3,976.3 L1931.5,977.5 L1925.8,978.7 L1920.0,980.1 L1914.2,981.6 L1908.4,983.1 L1902.7,984.8 L1896.9,986.6 Z" fill="#577a6a"/>
<path d="M1897.6,990.3 L1903.3,988.9 L1909.1,987.6 L1914.8,986.3 L1920.6,985.0 L1926.3,983.8 L1932.1,982.6 L1937.8,981.4 L1943.5,980.3 L1949.3,979.2 L1955.0,978.2 L1960.8,977.3 L1966.5,976.4 L1972.3,975.5 L1978.0,974.8 L1983.8,974.1 L1989.5,973.5 L1995.2,973.0 L2001.0,972.6 L2006.7,972.3 L2012.5,972.0 L2018.2,971.9 L2024.0,971.8 L2029.7,971.9 L2029.7,1008.8 L1897.6,1008.8 Z" fill="#577a6a"/>
</g>
</svg>
</body></html>
